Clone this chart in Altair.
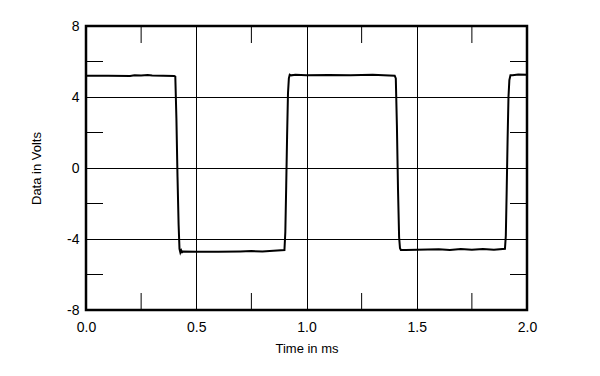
import altair as alt
import pandas as pd

# Waveform samples (time in ms, volts)
time_ms = [0.0, 0.10, 0.20, 0.22, 0.25, 0.28, 0.30, 0.35, 0.400, 0.405,
           0.410, 0.415, 0.420, 0.424, 0.428, 0.432, 0.436, 0.440, 0.50, 0.60,
           0.70, 0.75, 0.80, 0.85, 0.900, 0.904, 0.908, 0.912, 0.916, 0.920,
           0.924, 0.930, 0.95, 1.00, 1.10, 1.20, 1.30, 1.35, 1.400, 1.405,
           1.410, 1.415, 1.420, 1.424, 1.428, 1.45, 1.50, 1.60, 1.65, 1.70,
           1.75, 1.80, 1.85, 1.900, 1.904, 1.908, 1.912, 1.916, 1.920, 1.925,
           1.935, 1.96, 2.00]
volts = [5.20, 5.20, 5.19, 5.23, 5.21, 5.24, 5.21, 5.20, 5.18, 5.15,
         2.80, -0.50, -3.20, -4.55, -4.76, -4.64, -4.74, -4.70, -4.72, -4.72,
         -4.70, -4.68, -4.70, -4.66, -4.62, -3.60, -1.00, 1.80, 4.20, 5.05,
         5.26, 5.22, 5.25, 5.23, 5.24, 5.22, 5.25, 5.22, 5.20, 5.05,
         2.40, -1.20, -3.90, -4.52, -4.62, -4.62, -4.60, -4.58, -4.62, -4.57,
         -4.60, -4.56, -4.60, -4.55, -3.80, -1.20, 1.60, 4.00, 4.95, 5.22,
         5.22, 5.27, 5.25]

major_x = [0.0, 0.5, 1.0, 1.5, 2.0]
major_y = [-8, -4, 0, 4, 8]
minor_x = [0.25, 0.75, 1.25, 1.75]
minor_y = [-6, -2, 2, 6]

W, H = 441, 284
TICK = 17

wave = pd.DataFrame({"t": time_ms, "v": volts})
mx = pd.DataFrame({"t": minor_x})
my = pd.DataFrame({"v": minor_y})

xscale = alt.Scale(domain=[0, 2], nice=False, zero=False)
yscale = alt.Scale(domain=[-8, 8], nice=False, zero=False)

xaxis = alt.Axis(values=major_x, format=".1f", title="Time in ms", grid=True,
                 gridColor="#000000", gridWidth=1, gridOpacity=1, ticks=False,
                 domain=False, labelFontSize=14, labelFont="Liberation Sans",
                 labelColor="#000000", labelPadding=10, labelFlush=False,
                 titleFont="Liberation Sans",
                 titleFontSize=13, titleFontWeight="normal", titleColor="#000000",
                 titlePadding=8)
yaxis = alt.Axis(values=major_y, title="Data in Volts", grid=True,
                 labelExpr="toString(datum.value)",
                 gridColor="#000000", gridWidth=1, gridOpacity=1, ticks=False,
                 domain=False, labelFontSize=14, labelFont="Liberation Sans",
                 labelColor="#000000", labelPadding=7, labelFlush=False,
                 titleFont="Liberation Sans",
                 titleFontSize=13, titleFontWeight="normal", titleColor="#000000",
                 titlePadding=23)

line = alt.Chart(wave).mark_line(color="#000000", strokeWidth=2, interpolate="linear").encode(
    x=alt.X("t:Q", scale=xscale, axis=xaxis),
    y=alt.Y("v:Q", scale=yscale, axis=yaxis),
)

tick_bottom = alt.Chart(mx).mark_rule(color="#000000", strokeWidth=1).encode(
    x=alt.X("t:Q", scale=xscale), y=alt.value(H), y2=alt.value(H - TICK))
tick_top = alt.Chart(mx).mark_rule(color="#000000", strokeWidth=1).encode(
    x=alt.X("t:Q", scale=xscale), y=alt.value(0), y2=alt.value(TICK))
tick_left = alt.Chart(my).mark_rule(color="#000000", strokeWidth=1).encode(
    y=alt.Y("v:Q", scale=yscale), x=alt.value(0), x2=alt.value(TICK))
tick_right = alt.Chart(my).mark_rule(color="#000000", strokeWidth=1).encode(
    y=alt.Y("v:Q", scale=yscale), x=alt.value(W), x2=alt.value(W - TICK))

chart = alt.layer(tick_bottom, tick_top, tick_left, tick_right, line).properties(
    width=W, height=H,
    autosize=alt.AutoSizeParams(type="none"),
    padding={"left": 78, "top": 18, "right": 60, "bottom": 60},
    background="#ffffff",
).configure_view(stroke="#000000", strokeWidth=2.5)

chart.save("out.html", embed_options={"renderer": "svg", "actions": False})
